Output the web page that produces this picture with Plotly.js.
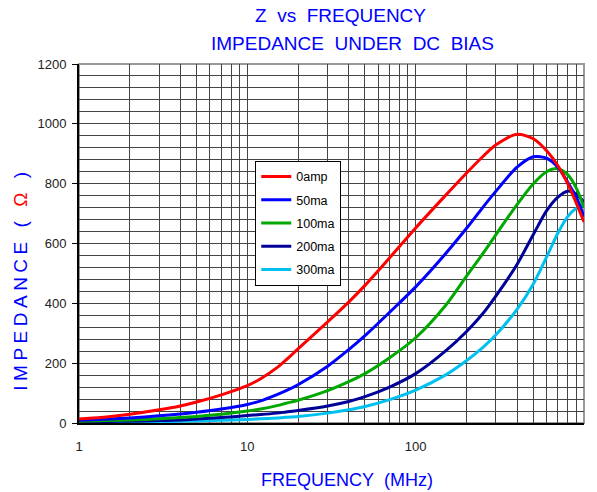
<!DOCTYPE html>
<html>
<head>
<meta charset="utf-8">
<script src="https://cdn.plot.ly/plotly-3.0.1.min.js"></script>
<style>html,body{margin:0;padding:0;background:#fff;}</style>
</head>
<body>
<div id="chart" style="width:597px;height:492px;"></div>
<script>
// Frequency (MHz)
const freq = [1, 1.5, 2, 3, 4, 5, 7, 10, 12, 15, 17, 20, 30, 40, 50, 70, 100, 150, 200, 250, 300, 400, 500, 600, 700, 800, 900, 1000];
// Impedance (ohm) per bias current
const z0amp  = [13, 21, 29, 44, 57, 70, 94, 125, 148, 185, 211, 248, 338, 404, 460, 552, 652, 760, 835, 890, 930, 965, 950, 910, 860, 800, 735, 672];
const z50ma  = [9, 13, 17, 24, 30, 36, 47, 62, 74, 95, 108, 128, 190, 245, 292, 370, 455, 565, 650, 720, 775, 855, 890, 885, 855, 805, 755, 690];
const z100ma = [6, 8, 10, 14, 18, 22, 29, 40, 47, 58, 66, 76, 108, 138, 165, 218, 285, 392, 490, 565, 630, 730, 800, 840, 850, 830, 785, 720];
const z200ma = [4, 5, 6, 8, 10, 13, 18, 25, 28, 33, 37, 42, 57, 72, 88, 120, 165, 240, 305, 365, 425, 530, 630, 710, 755, 775, 765, 738];
const z300ma = [2, 3, 4, 5, 6, 7, 9, 12, 14, 17, 19, 22, 33, 44, 55, 78, 110, 160, 208, 252, 295, 380, 465, 555, 635, 690, 718, 729];
const seriesNames = ['0amp', '50ma', '100ma', '200ma', '300ma'];
const seriesColors = ['#ff0000', '#0000ff', '#00a800', '#000099', '#00c0f0'];
const seriesData = [z0amp, z50ma, z100ma, z200ma, z300ma];

// x-axis tick values (decades labelled, 2..9 gridlines only)
const decades = [1, 10, 100];
const xTickVals = [];
const xTickText = [];
decades.forEach(d => { for (let m = 1; m <= 9; m++) { xTickVals.push(d * m); xTickText.push(m === 1 ? String(d) : ''); } });
xTickVals.push(1000); xTickText.push('1000');

const traces = [];
for (let i = seriesNames.length - 1; i >= 0; i--) {
  traces.push({
    x: freq, y: seriesData[i], type: 'scatter', mode: 'lines',
    name: seriesNames[i], legendrank: i + 1, legendgroup: 'g' + i,
    line: {color: seriesColors[i], width: 3, shape: 'spline', smoothing: 0.8}
  });
}

const gridCol = '#444';
const layout = {
  width: 597, height: 492,
  margin: {l: 79, r: 13, t: 64, b: 69},
  paper_bgcolor: '#fff', plot_bgcolor: '#fff',
  font: {family: 'Liberation Sans, Arial, sans-serif', size: 13, color: '#222'},
  showlegend: true,
  legend: {
    x: 0.349, y: 0.73, xanchor: 'left', yanchor: 'top',
    bgcolor: '#fff', bordercolor: '#000', borderwidth: 1,
    font: {size: 12.5, color: '#000'},
    traceorder: 'grouped', itemwidth: 30, tracegroupgap: 4
  },
  xaxis: {
    type: 'log', range: [0, 3],
    tickmode: 'array', tickvals: xTickVals, ticktext: xTickText,
    showgrid: true, gridcolor: gridCol, gridwidth: 1,
    ticks: '', ticklabelstandoff: 10,
    showline: true, linecolor: '#000', linewidth: 2,
    zeroline: false, tickfont: {size: 13, color: '#222'}
  },
  yaxis: {
    range: [0, 1200], dtick: 200, tick0: 0,
    showgrid: true, gridcolor: gridCol, gridwidth: 1,
    minor: {dtick: 40, showgrid: true, gridcolor: gridCol, gridwidth: 1},
    ticks: 'outside', ticklen: 5, tickcolor: '#000', ticklabelstandoff: 3,
    showline: true, linecolor: '#000', linewidth: 2,
    zeroline: false, tickfont: {size: 13, color: '#222'}
  },
  shapes: [{
    type: 'rect', xref: 'paper', yref: 'paper', x0: 0, x1: 1, y0: 0, y1: 1,
    line: {color: '#999', width: 2}, layer: 'below'
  }],
  annotations: [
    {text: 'Z\u00a0 vs\u00a0 FREQUENCY', xref: 'paper', yref: 'paper', x: 0.517, y: 1.134,
     showarrow: false, font: {size: 19, color: '#0000ff'}, xanchor: 'center', yanchor: 'middle'},
    {text: 'IMPEDANCE\u00a0 UNDER\u00a0 DC\u00a0 BIAS', xref: 'paper', yref: 'paper', x: 0.541, y: 1.058,
     showarrow: false, font: {size: 19, color: '#0000ff'}, xanchor: 'center', yanchor: 'middle'},
    {text: 'FREQUENCY\u00a0 (MHz)', xref: 'paper', yref: 'paper', x: 0.531, y: -0.159,
     showarrow: false, font: {size: 18, color: '#0000ff'}, xanchor: 'center', yanchor: 'middle'},
    {text: 'IMPEDANCE ( <span style="color:#ff0000">\u03a9</span> )', xref: 'paper', yref: 'paper',
     x: -0.117, y: 0.401, textangle: -90,
     showarrow: false, font: {size: 19, color: '#0000ff'}, xanchor: 'center', yanchor: 'middle'}
  ]
};

Plotly.newPlot('chart', traces, layout, {displayModeBar: false, staticPlot: true}).then(() => {
  document.querySelectorAll('.annotation-text').forEach(t => {
    if (t.textContent.indexOf('IMPEDANCE (') === 0) t.style.letterSpacing = '4.5px';
  });
});
</script>
</body>
</html>
